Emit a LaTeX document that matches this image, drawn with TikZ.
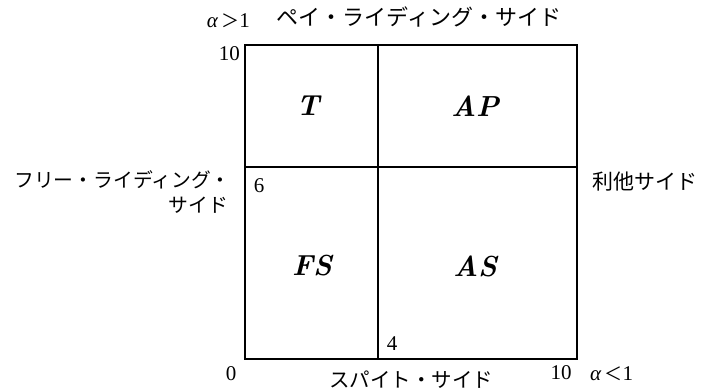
\documentclass[tikz,border=0pt]{standalone}
\usepackage{fontspec}
\newfontfamily\jp{Noto Sans CJK JP}
\newfontfamily\numfont{Liberation Serif}
\begin{document}
\begin{tikzpicture}[x=1pt,y=-1pt,
  frame/.style={line width=1.6pt, line cap=rect},
  jlabel/.style={font=\jp, inner sep=0pt},
  numtxt/.style={font=\numfont\fontsize{21}{24}\selectfont, inner sep=0pt},
  region/.style={font=\bfseries\itshape\fontsize{29}{33}\selectfont, inner sep=0pt}]
\useasboundingbox (0,0) rectangle (704,391);
% frame
\coordinate (tl) at (245,45);
\coordinate (tr) at (577,45);
\coordinate (br) at (577,359);
\coordinate (bl) at (245,359);
\coordinate (vt) at (378,45);
\coordinate (vb) at (378,359);
\coordinate (hl) at (245,167);
\coordinate (hr) at (577,167);
\draw[frame] (tl) -- (tr) -- (br) -- (bl) -- cycle;
\draw[frame] (vt) -- (vb);
\draw[frame] (hl) -- (hr);
% regions
\node[region] (T) at (308,106) {T};
\node[region] (AP) at (475,106) {AP};
\node[region] (FS) at (312,266) {FS};
\node[region] (AS) at (475,266) {AS};
% numbers
\node[numtxt,anchor=east] (n10l) at (240,54) {10};
\node[numtxt] (n6) at (259,186) {6};
\node[numtxt] (n4) at (392,344) {4};
\node[numtxt] (n0) at (231,374) {0};
\node[numtxt] (n10b) at (561,373) {10};
\node[numtxt,anchor=west] (alo) at (590,374) {{\itshape α}\,{\jp\fontsize{18}{21}\selectfont ＜}1};
\node[numtxt,anchor=east] (ahi) at (250,21) {{\itshape α}\,{\jp\fontsize{18}{21}\selectfont ＞}1};
% side labels
\node[jlabel,font=\jp\fontsize{22}{26}\selectfont] (top) at (419,17) {ペイ・ライディング・サイド};
\node[jlabel,font=\jp\fontsize{20.5}{24}\selectfont] (bottom) at (411,380) {スパイト・サイド};
\node[jlabel,font=\jp\fontsize{19.8}{24}\selectfont,anchor=east] (left1) at (231,180) {フリー・ライディング・};
\node[jlabel,font=\jp\fontsize{19.8}{24}\selectfont,anchor=east] (left2) at (228,205) {サイド};
\node[jlabel,font=\jp\fontsize{21}{25}\selectfont,anchor=west] (right) at (592,182) {利他サイド};
\end{tikzpicture}
\end{document}
